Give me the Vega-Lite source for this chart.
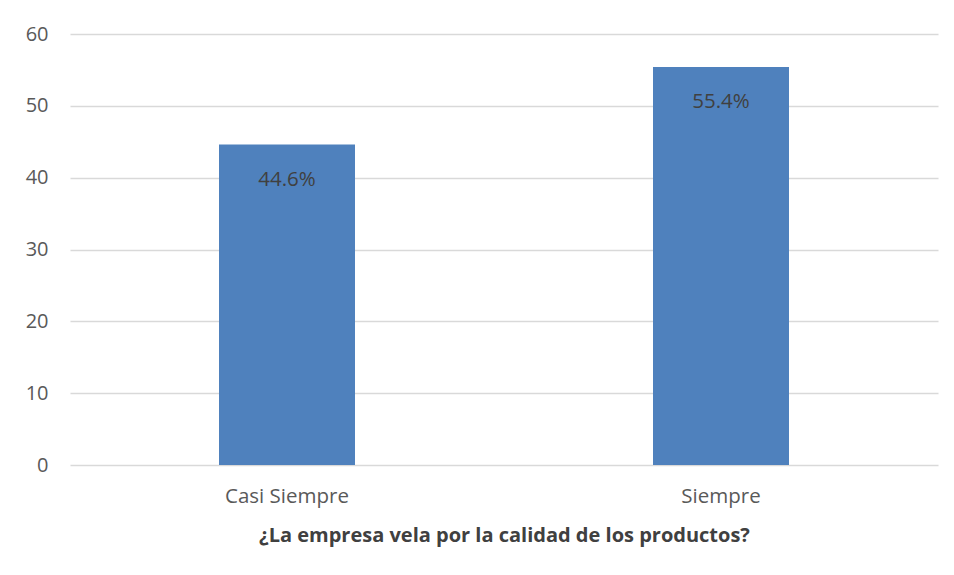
{
  "$schema": "https://vega.github.io/schema/vega-lite/v6.json",
  "width": 868,
  "height": 431,
  "autosize": "none",
  "padding": {"left": 70, "top": 34, "right": 16, "bottom": 110},
  "background": "white",
  "config": {"view": {"stroke": null}, "font": "Open Sans"},
  "data": {"values": [
    {"respuesta": "Casi Siempre", "valor": 44.6, "etiqueta": "44.6%"},
    {"respuesta": "Siempre", "valor": 55.4, "etiqueta": "55.4%"}
  ]},
  "encoding": {
    "x": {
      "field": "respuesta", "type": "nominal", "sort": null,
      "scale": {"paddingInner": 0, "paddingOuter": 0},
      "axis": {
        "title": "¿La empresa vela por la calidad de los productos?",
        "titleFont": "Open Sans", "titleFontSize": 20, "titleFontWeight": "bold", "titleColor": "#404040",
        "titlePadding": 19,
        "labelAngle": 0, "labelFontSize": 20.5, "labelColor": "#595959", "labelPadding": 21,
        "ticks": false, "domain": false
      }
    },
    "y": {
      "field": "valor", "type": "quantitative",
      "scale": {"domain": [0, 60]},
      "axis": {
        "title": null, "values": [0, 10, 20, 30, 40, 50, 60],
        "labelFontSize": 20, "labelColor": "#595959", "labelPadding": 22,
        "ticks": false, "domain": false,
        "gridColor": "#D9D9D9", "gridWidth": 1.3
      }
    }
  },
  "layer": [
    {"mark": {"type": "bar", "width": 136, "color": "#4F81BD"}},
    {"mark": {"type": "text", "baseline": "middle", "dy": 35, "fontSize": 20.5, "color": "#404040"},
     "encoding": {"text": {"field": "etiqueta"}}}
  ]
}
